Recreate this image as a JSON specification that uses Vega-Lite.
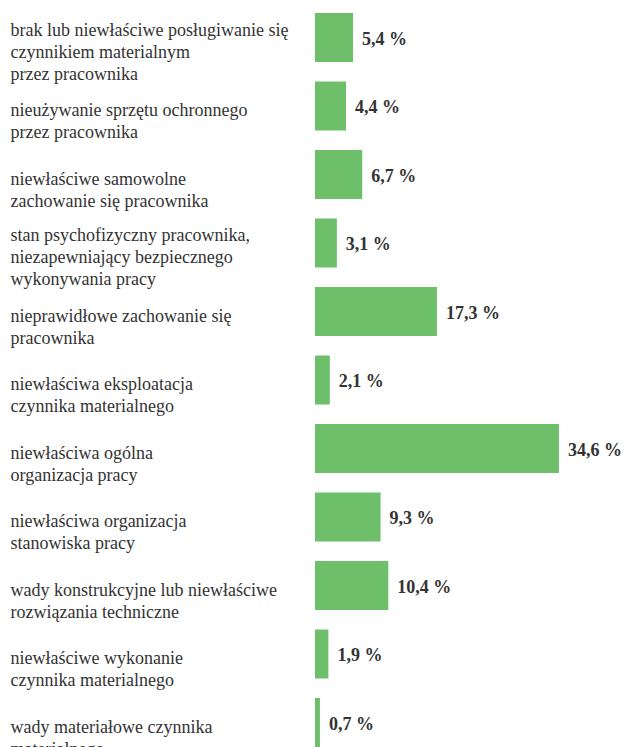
{
  "$schema": "https://vega.github.io/schema/vega-lite/v6.json",
  "width": 312,
  "height": 747,
  "autosize": {"type": "none"},
  "padding": {"left": 315, "top": 0, "right": 0, "bottom": 0},
  "background": "white",
  "config": {"view": {"stroke": null}},
  "data": {
    "values": [
      {"cat": "brak lub niewłaściwe posługiwanie się|czynnikiem materialnym|przez pracownika", "value": 5.4, "label": "5,4 %"},
      {"cat": "nieużywanie sprzętu ochronnego|przez pracownika", "value": 4.4, "label": "4,4 %"},
      {"cat": "niewłaściwe samowolne|zachowanie się pracownika", "value": 6.7, "label": "6,7 %"},
      {"cat": "stan psychofizyczny pracownika,|niezapewniający bezpiecznego|wykonywania pracy", "value": 3.1, "label": "3,1 %"},
      {"cat": "nieprawidłowe zachowanie się|pracownika", "value": 17.3, "label": "17,3 %"},
      {"cat": "niewłaściwa eksploatacja|czynnika materialnego", "value": 2.1, "label": "2,1 %"},
      {"cat": "niewłaściwa ogólna|organizacja pracy", "value": 34.6, "label": "34,6 %"},
      {"cat": "niewłaściwa organizacja|stanowiska pracy", "value": 9.3, "label": "9,3 %"},
      {"cat": "wady konstrukcyjne lub niewłaściwe|rozwiązania techniczne", "value": 10.4, "label": "10,4 %"},
      {"cat": "niewłaściwe wykonanie|czynnika materialnego", "value": 1.9, "label": "1,9 %"},
      {"cat": "wady materiałowe czynnika|materialnego", "value": 0.7, "label": "0,7 %"}
    ]
  },
  "encoding": {
    "y": {
      "field": "cat",
      "type": "nominal",
      "sort": null,
      "scale": {"paddingInner": 0.285, "paddingOuter": 0.095, "align": 1},
      "axis": {
        "title": null,
        "domain": false,
        "ticks": false,
        "grid": false,
        "labelAlign": "left",
        "labelBaseline": "middle",
        "labelPadding": 305,
        "labelOffset": {"condition": {"test": "length(split(datum.value, '|')) >= 3", "value": -7}, "value": 5},
        "labelExpr": "split(datum.value, '|')",
        "labelFont": "Liberation Serif",
        "labelFontSize": 18,
        "labelColor": "#333333",
        "labelLineHeight": 22,
        "labelLimit": 0,
        "labelOverlap": false,
        "labelBound": false
      }
    },
    "x": {
      "field": "value",
      "type": "quantitative",
      "scale": {"domain": [0, 44.26], "nice": false, "zero": true},
      "axis": null
    }
  },
  "layer": [
    {"mark": {"type": "bar", "color": "#6DBF6A"}},
    {
      "mark": {"type": "text", "align": "left", "baseline": "middle", "dx": 9, "dy": 2, "font": "Liberation Serif", "fontSize": 18, "fontWeight": "bold", "color": "#333333"},
      "encoding": {"text": {"field": "label"}}
    }
  ]
}
